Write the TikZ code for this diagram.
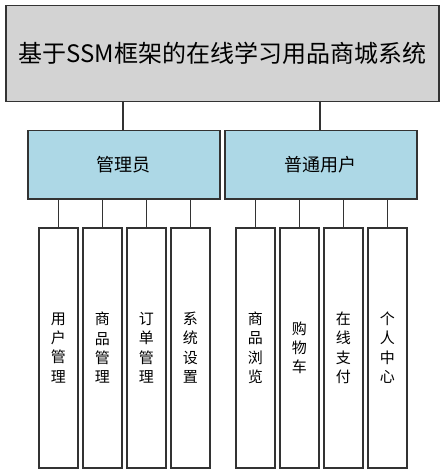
\documentclass[tikz,border=0pt]{standalone}
\usepackage{fontspec}
\setmainfont{Noto Sans CJK SC}
\definecolor{topgray}{HTML}{D3D3D3}
\definecolor{headblue}{HTML}{ADD8E6}
\definecolor{edge}{HTML}{333333}
\tikzset{
  box/.style={draw=edge, line width=1.5pt, inner sep=0pt, anchor=north west},
  topbox/.style={box, fill=topgray},
  headbox/.style={box, fill=headblue, font=\fontsize{18}{21}\selectfont},
  leafbox/.style={box, fill=white, minimum width=39pt, minimum height=240pt,
    align=center, font=\fontsize{15}{19.3}\selectfont},
  link/.style={draw=edge, line width=1.5pt},
}
\begin{document}
\begin{tikzpicture}[x=1pt,y=-1pt]
\useasboundingbox (0,0) rectangle (443,473);
\node[topbox, minimum width=433pt, minimum height=96pt] (root) at (5,5) {};
\node (title) at (root.center) {\fontsize{24}{28}\selectfont 基于SSM框架的在线学习用品商城系统};
\node[headbox, minimum width=192pt, minimum height=68pt] (admin) at (27,130) {管理员};
\node[headbox, minimum width=192pt, minimum height=68pt] (user) at (224,130) {普通用户};
\coordinate (r1) at (123,101);
\coordinate (r2) at (320,101);
\draw[link] (r1) -- (r1 |- admin.north);
\draw[link] (r2) -- (r2 |- user.north);
\node[leafbox] (a1) at (38,227) {用\\户\\管\\理};
\node[leafbox] (a2) at (82,227) {商\\品\\管\\理};
\node[leafbox] (a3) at (126,227) {订\\单\\管\\理};
\node[leafbox] (a4) at (170,227) {系\\统\\设\\置};
\node[leafbox] (u1) at (235,227) {商\\品\\浏\\览};
\node[leafbox] (u2) at (279,227) {购\\物\\车};
\node[leafbox] (u3) at (323,227) {在\\线\\支\\付};
\node[leafbox] (u4) at (367,227) {个\\人\\中\\心};
\foreach \n in {a1,a2,a3,a4}{\draw[link] (\n.north) -- (\n.north |- admin.south);}
\foreach \n in {u1,u2,u3,u4}{\draw[link] (\n.north) -- (\n.north |- user.south);}
\end{tikzpicture}
\end{document}
